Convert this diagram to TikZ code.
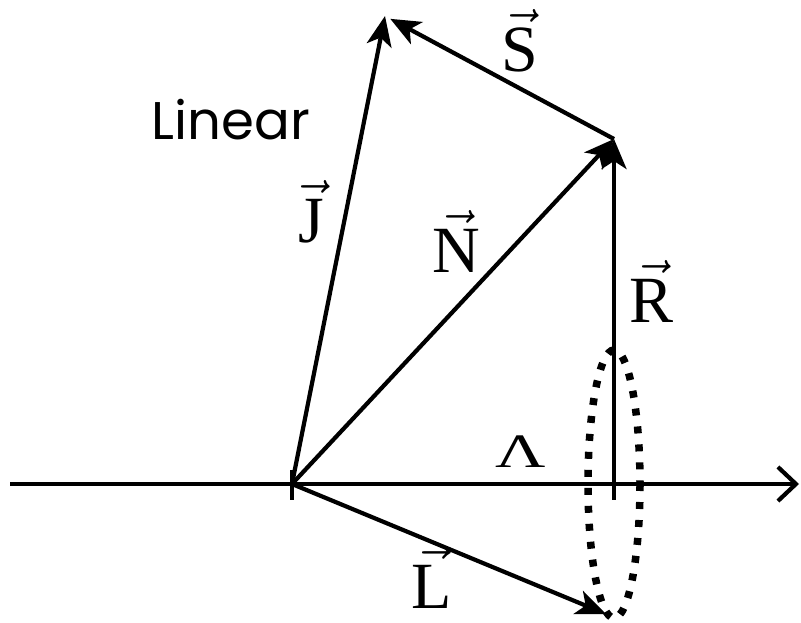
\documentclass[tikz,border=0pt]{standalone}
\usepackage{fix-cm}
\usepackage{fontspec}
\setmainfont{Liberation Serif}
\newfontfamily\linfont{Poppins}
\usetikzlibrary{arrows.meta}
\newcommand{\vlab}[1]{$\vec{\hbox{#1}}$}
\tikzset{
  vec/.style={line width=4.2pt, -{Stealth[length=30pt,width=25pt,inset=8pt]}},
  plain/.style={line width=4.2pt},
  lab/.style={font=\fontsize{66}{66}\selectfont, inner sep=0pt, anchor=base},
}
\begin{document}
\begin{tikzpicture}[x=1pt,y=-1pt]
\useasboundingbox (0,0) rectangle (801,623);
\coordinate (O) at (292,484);
\coordinate (A0) at (10,484);
\coordinate (A1) at (799,484);
\coordinate (Jt) at (385,16);
\coordinate (Nt) at (614,139);
\coordinate (Rb) at (614,350);
\coordinate (Rt) at (614,500);
\coordinate (Lt) at (606,614);
\coordinate (Ot) at (292,470);
\coordinate (Ob) at (292,500);
\coordinate (C) at (614,484);
% axis
\draw[plain, -{Straight Barb[length=18pt,width=34pt,line width=4.2pt]}] (A0) -- (A1);
\draw[plain] (Ot) -- (Ob);
\draw[plain] (Rb) -- (Rt);
% ellipse
\draw[line width=7.5pt, dash pattern=on 7pt off 11pt] (C) ellipse [x radius=26, y radius=134];
% vectors
\draw[vec] (O) -- (Jt);
\draw[vec] (O) -- (Nt);
\draw[vec] (Rb) -- (Nt);
\draw[vec, shorten >=6pt] (Nt) -- (Jt);
\draw[vec] (O) -- (Lt);
% labels
\node[lab] (lS) at (520,72) {\vlab{S}};
\node[lab] (lJ) at (311,242) {\vlab{J}};
\node[lab] (lN) at (456,272) {\vlab{N}};
\node[lab] (lR) at (652,322) {\vlab{R}};
\node[lab] (lL) at (432,608) {\vlab{L}};
\node[inner sep=0pt, anchor=base, font=\fontsize{48}{48}\selectfont] (lLam) at (521,467) {\scalebox{1.45}[1]{Λ}};
\node[inner sep=0pt, anchor=base, font=\linfont\fontsize{53}{53}\selectfont] (lin) at (231,140) {Linear};
\end{tikzpicture}
\end{document}
